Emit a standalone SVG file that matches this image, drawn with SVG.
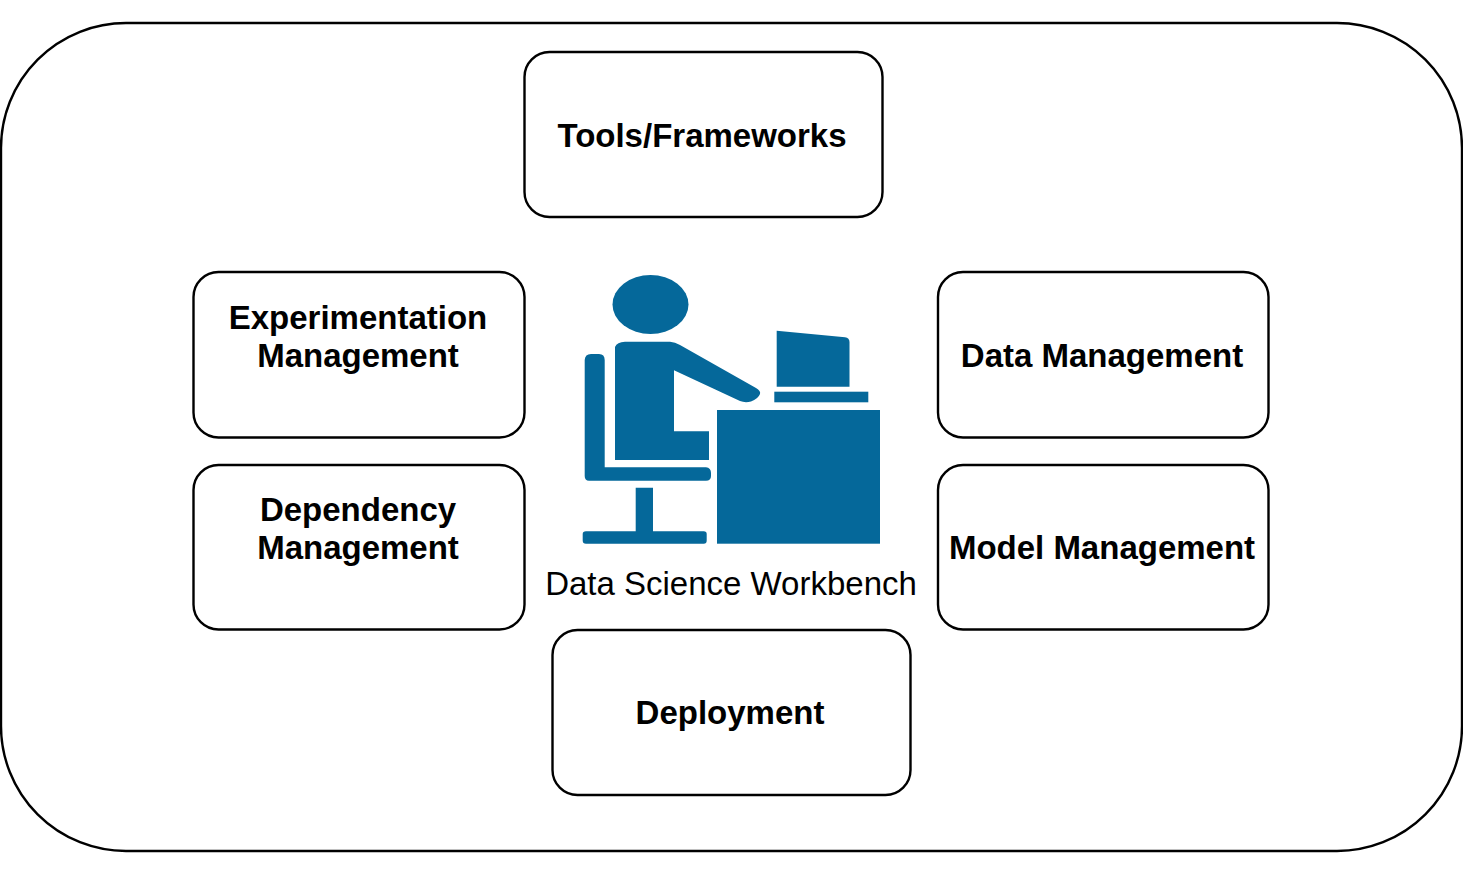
<svg xmlns="http://www.w3.org/2000/svg" width="1463" height="875" viewBox="0 0 1463 875">
<style>
.box{fill:#fff;stroke:#000;stroke-width:2.4}
.b{font:bold 33px "Liberation Sans",Arial,sans-serif;text-anchor:middle;fill:#000}
.r{font:33px "Liberation Sans",Arial,sans-serif;text-anchor:middle;fill:#000}
.ic{fill:#05689a}
</style>
<rect width="1463" height="875" fill="#fff"/>
<g id="frame"><rect class="box" x="1" y="23" width="1461" height="828" rx="125" ry="125"/></g>
<g id="tools"><rect class="box" x="524.5" y="52" width="358" height="165" rx="25"/><text class="b" x="702" y="147">Tools/Frameworks</text></g>
<g id="experimentation"><rect class="box" x="193.500" y="272" width="331" height="165.500" rx="25"/><text class="b" x="358" y="329">Experimentation</text><text class="b" x="358" y="367">Management</text></g>
<g id="dependency"><rect class="box" x="193.500" y="465" width="331" height="164.500" rx="25"/><text class="b" x="358" y="521">Dependency</text><text class="b" x="358" y="559">Management</text></g>
<g id="data"><rect class="box" x="938" y="272" width="330.500" height="165.500" rx="25"/><text class="b" x="1102" y="367">Data Management</text></g>
<g id="model"><rect class="box" x="938" y="465" width="330.500" height="164.500" rx="25"/><text class="b" x="1102" y="559">Model Management</text></g>
<g id="deployment"><rect class="box" x="552.500" y="630" width="358" height="165" rx="25"/><text class="b" x="730" y="724">Deployment</text></g>
<g id="workbench">
<ellipse class="ic" cx="650.500" cy="304.500" rx="38" ry="29.500"/>
<path class="ic" d="M776.700 330.700L845 337.300Q849.500 338 849.500 342V386.700H776.700Z"/>
<rect class="ic" x="774.300" y="391.700" width="94" height="10.600"/>
<rect class="ic" x="717" y="410" width="163" height="133.700"/>
<path class="ic" d="M615 347Q617 342 625 341.700H670Q675 342 680 345L756 388Q761 391 760 394Q758 399 751 401.500Q745 403 740 401L674 370.300V431.300H709V460H615Z"/>
<path class="ic" d="M584.700 360Q585 354 591 354H599Q604.700 354 604.700 360V467.300H706Q711 468 711 473V476Q711 480.700 706 480.700H589Q584.700 480.700 584.700 476Z"/>
<path class="ic" d="M635.700 487.700H653V531.300H703.700Q706.700 531.300 706.700 534V540.500Q706.700 543.700 703.700 543.700H586Q582.700 543.700 582.700 540.500V534Q582.700 531.300 586 531.300H635.700Z"/>
<text class="r" x="731" y="595">Data Science Workbench</text>
</g>
</svg>
